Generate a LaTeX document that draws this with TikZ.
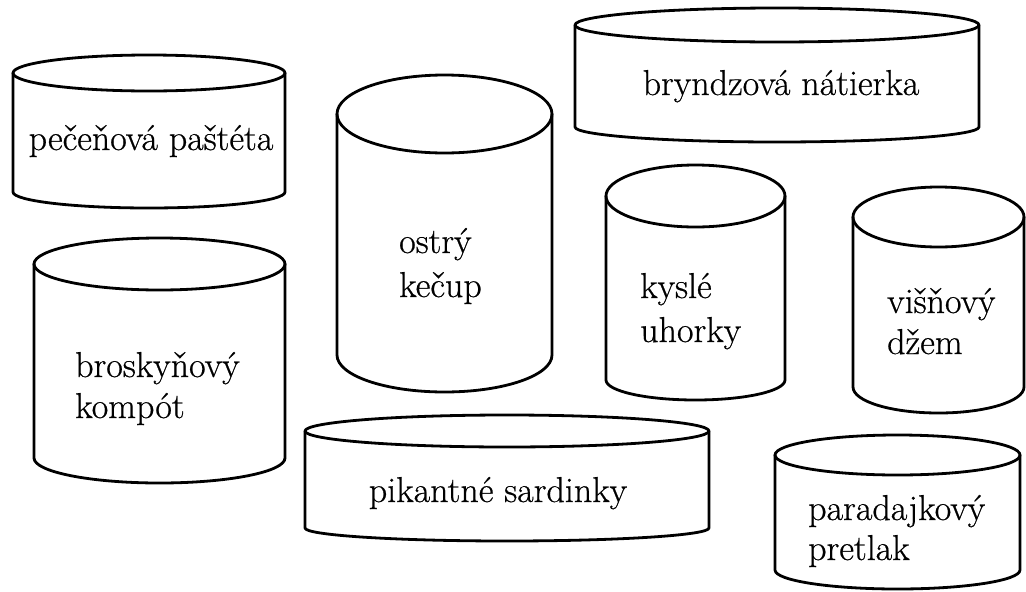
\documentclass[tikz,border=0pt]{standalone}
\usepackage{fontspec}
\newfontfamily\canfont{Latin Modern Roman}[FakeBold=0.6]
\begin{document}
\begin{tikzpicture}[x=1pt,y=-1pt,
  canline/.style={line width=2.8pt,line join=round,line cap=round},
  lbl/.style={inner sep=0pt,font=\canfont\fontsize{36}{44}\selectfont},
  lblw/.style={lbl,anchor=base west},
  lblc/.style={lbl,anchor=base}]
\useasboundingbox (0,0) rectangle (1026,592);
% #1 x1, #2 x2, #3 top centre y, #4 top ry, #5 bottom y, #6 bottom ry
\newcommand\mycan[6]{%
  \pgfmathsetmacro\rxx{(#2-#1)/2}%
  \draw[canline] ({(#1+#2)/2},#3) ellipse[x radius=\rxx,y radius=#4];
  \draw[canline] (#1,#3) -- (#1,#5) arc[start angle=180,end angle=0,x radius=\rxx,y radius=#6] -- (#2,#3);
}
\mycan{13}{285}{73}{18}{192}{16}
\mycan{575}{979}{25}{17}{127}{15}
\mycan{337}{552}{114}{39}{355}{37}
\mycan{606}{785}{196}{31}{380}{20}
\mycan{853}{1024}{217}{30}{387}{26}
\mycan{34}{285}{264}{26}{458}{25}
\mycan{305}{709}{431}{16}{528}{13}
\mycan{775}{1020}{455}{20}{570}{19}
\node[lblc] (pecen) at (151,150) {pečeňová paštéta};
\node[lblc] (brynd) at (781,95) {bryndzová nátierka};
\node[lblw] (kecup1) at (399,253) {ostrý};
\node[lblw] (kecup2) at (399,297) {kečup};
\node[lblw] (kysle1) at (640,298) {kyslé};
\node[lblw] (kysle2) at (640,342) {uhorky};
\node[lblw] (visn1) at (887,313) {višňový};
\node[lblw] (visn2) at (887,354) {džem};
\node[lblw] (brosk1) at (75,377) {broskyňový};
\node[lblw] (brosk2) at (75,418) {kompót};
\node[lblc] (pikant) at (498,502) {pikantné sardinky};
\node[lblw] (parad1) at (808,520) {paradajkový};
\node[lblw] (parad2) at (808,560) {pretlak};
\end{tikzpicture}
\end{document}
